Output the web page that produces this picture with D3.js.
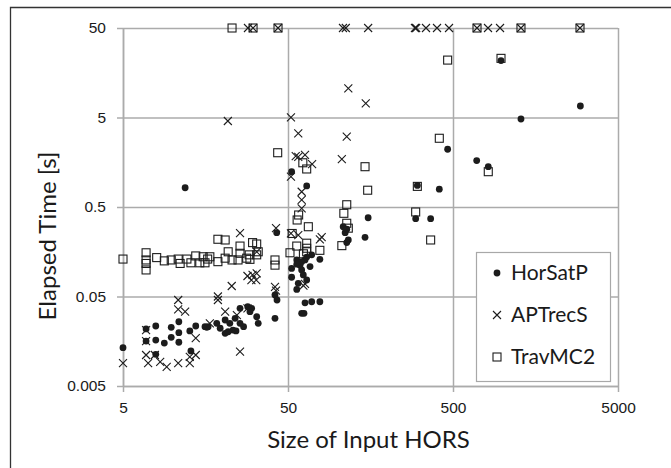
<!DOCTYPE html>
<html>
<head>
<meta charset="utf-8">
<script src="https://cdn.jsdelivr.net/npm/d3@7"></script>
<style>
  body { margin: 0; background: #fff; }
  svg { display: block; font-family: Lato, "Open Sans", sans-serif; }
  .grid line { stroke: #ababab; stroke-width: 1.5; }
  .grid path { display: none; }
  .axis path, .axis line { stroke: #ababab; stroke-width: 1.5; }
  .axis text { font-size: 15.5px; fill: #1a1a1a; }
</style>
</head>
<body>
<div id="chart"></div>
<script>
// tick values and their labels
var xTicks = [5, 50, 500, 5000];
var xTickLabels = ["5", "50", "500", "5000"];
var yTicks = [0.005, 0.05, 0.5, 5, 50];
var yTickLabels = ["0.005", "0.05", "0.5", "5", "50"];

var seriesNames = ["HorSatP", "APTrecS", "TravMC2"];

// [size of input HORS, elapsed time (s)]
var horSatP = [
  [5, 0.0134], [6.9, 0.0217], [7.9, 0.0234], [6.9, 0.0159], [7.9, 0.0163], [8.9, 0.0151],
  [9.8, 0.0226], [9.8, 0.0175], [10.9, 0.0261], [10.9, 0.0197], [10.9, 0.0154], [12.7, 0.0206],
  [13.8, 0.0234], [16.1, 0.0226], [7.9, 0.0113], [12.9, 0.0123], [15.7, 0.023], [16.4, 0.023],
  [18.5, 0.0251], [20.8, 0.0273], [22.2, 0.0251], [20.8, 0.0194], [23.2, 0.0211], [25.6, 0.0369],
  [25.6, 0.0251], [28.5, 0.0385], [29.4, 0.0338], [30.1, 0.0369], [32.3, 0.0297], [33.0, 0.0251],
  [26.9, 0.023], [23.9, 0.0285], [19.4, 0.0221], [21.7, 0.0202], [24.2, 0.0206],
  [42.7, 0.258], [41.7, 0.052], [42.9, 0.0457], [41.7, 0.0285], [11.9, 0.82],
  [52.6, 1.24], [64.9, 0.86], [153, 0.379], [146.5, 0.229], [108, 0.301], [113.5, 0.282],
  [111, 0.258], [116, 0.214], [113.5, 0.2], [78, 0.13], [52.6, 0.103], [52.6, 0.082],
  [56.5, 0.128], [59.1, 0.112], [60.5, 0.099], [61.9, 0.087], [57.7, 0.0702], [56.5, 0.06],
  [63.4, 0.128], [68, 0.108], [69.6, 0.146], [64.9, 0.0764], [63.4, 0.0425], [69.6, 0.0437],
  [78, 0.0437], [60.5, 0.0324], [62.5, 0.0324], [60.5, 0.1225], [56.5, 0.115], [64.9, 0.138],
  [2957, 6.72], [1291, 4.81], [977, 21.6], [464, 2.21], [696, 1.65], [818, 1.41],
  [304, 0.87], [413, 0.79], [297, 0.37], [366, 0.37]
];

var aptRecS = [
  [28.6, 50], [30.7, 50], [43.5, 50], [107.7, 50], [112, 50], [153, 50], [294, 50], [299, 50],
  [343, 50], [400, 50], [473, 50], [699, 50], [815, 50], [964, 50], [1291, 50], [2942, 50],
  [21.6, 4.57], [52.1, 5.01], [57.7, 3.33], [57.7, 1.82], [55.7, 1.85], [63.4, 1.91], [70, 1.51],
  [52.1, 1.09], [116, 10.6], [148, 7.2], [113.5, 3.05], [106, 1.71], [60.5, 0.74], [60.5, 0.6],
  [60.5, 0.483], [52.1, 0.254], [57.7, 0.243], [78, 0.218], [80, 0.23], [63.4, 0.069], [62, 0.066],
  [25.6, 0.256], [42.3, 0.29], [32.3, 0.158], [28.4, 0.0847], [30.5, 0.087], [32.3, 0.0908],
  [30, 0.0764], [32.1, 0.0764], [22.8, 0.0655], [18.8, 0.0457], [18.8, 0.05], [41.7, 0.064],
  [42.3, 0.058], [20.8, 0.0338], [24.5, 0.031], [16.8, 0.0251], [28.4, 0.0369], [25.6, 0.0121],
  [10.8, 0.0457], [10.8, 0.036], [11.9, 0.0338], [6.9, 0.0211], [6.9, 0.0159], [5, 0.009],
  [6.9, 0.0111], [7.1, 0.009], [7.8, 0.0111], [8.4, 0.0093], [9.2, 0.0082], [10.8, 0.009],
  [12.7, 0.0106], [12.7, 0.009], [13.8, 0.0111], [13.8, 0.0171]
];

var travMC2 = [
  [22.9, 50], [30.7, 50], [43.5, 50], [699, 50], [1291, 50], [2942, 50],
  [43.3, 2.02], [61.5, 1.56], [64.9, 1.33], [146.5, 1.41], [152, 0.77], [113.5, 0.53],
  [109, 0.425], [113.5, 0.329], [116, 0.29], [106, 0.185], [58, 0.407], [56.8, 0.358],
  [66.4, 0.301], [53, 0.253], [56.5, 0.183], [64.9, 0.197], [64.9, 0.173], [64.9, 0.158],
  [62, 0.15], [78, 0.164], [51.4, 0.154], [413, 2.93], [464, 21.9], [977, 22.9], [818, 1.24],
  [304, 0.85], [297, 0.44], [366, 0.214],
  [5, 0.131], [6.9, 0.154], [6.9, 0.128], [6.9, 0.117], [6.9, 0.099], [8.0, 0.136], [8.9, 0.125],
  [9.8, 0.128], [10.8, 0.131], [11.1, 0.117], [12.2, 0.131], [12.9, 0.119], [13.8, 0.142],
  [14.6, 0.119], [16.3, 0.131], [15.3, 0.139], [16.8, 0.139], [15.7, 0.119], [18.8, 0.218],
  [20.8, 0.214], [25.6, 0.183], [30.5, 0.2], [32.3, 0.193], [18.8, 0.1225], [20.8, 0.134],
  [21.7, 0.158], [22.9, 0.128], [24.9, 0.128], [25.6, 0.152], [28.1, 0.134], [29.1, 0.146],
  [29.4, 0.13], [32.3, 0.146], [33, 0.158], [41.7, 0.128], [41.7, 0.112]
];

var svgWidth = 671;
var svgHeight = 468;
var margin = { top: 28, left: 123, right: 53, bottom: 82 };
var width = svgWidth - margin.left - margin.right;    // 495
var height = svgHeight - margin.top - margin.bottom;  // 358

var svg = d3.select("#chart").append("svg")
  .attr("width", svgWidth)
  .attr("height", svgHeight);

svg.append("rect").attr("width", svgWidth).attr("height", svgHeight).attr("fill", "#fff");

// outer frame (top and left only are visible)
svg.append("path")
  .attr("d", "M10.5,468V7.5H671")
  .attr("fill", "none")
  .attr("stroke", "#333")
  .attr("stroke-width", 1.3);

var chartGroup = svg.append("g")
  .attr("transform", `translate(${margin.left}, ${margin.top})`);

var xScale = d3.scaleLog().domain([5, 5000]).range([0, width]);
var yScale = d3.scaleLog().domain([0.005, 50]).range([height, 0]);

// gridlines
chartGroup.append("g")
  .attr("class", "grid")
  .call(d3.axisLeft(yScale).tickValues(yTicks).tickSize(-width).tickFormat(""));
chartGroup.append("g")
  .attr("class", "grid")
  .attr("transform", `translate(0, ${height})`)
  .call(d3.axisBottom(xScale).tickValues(xTicks).tickSize(-height).tickFormat(""));

// axes
chartGroup.append("g")
  .attr("class", "axis")
  .attr("transform", `translate(0, ${height})`)
  .call(d3.axisBottom(xScale).tickValues(xTicks).tickSizeInner(6).tickSizeOuter(0).tickPadding(10)
    .tickFormat((d, i) => xTickLabels[i]));

chartGroup.append("g")
  .attr("class", "axis")
  .call(d3.axisLeft(yScale).tickValues(yTicks).tickSizeInner(6).tickSizeOuter(0).tickPadding(11)
    .tickFormat((d, i) => yTickLabels[i]));

chartGroup.selectAll(".axis .domain").attr("stroke", "#ababab");

// axis titles
chartGroup.append("text")
  .attr("x", width / 2 - 2)
  .attr("y", height + 62)
  .attr("text-anchor", "middle")
  .attr("font-size", "24px")
  .attr("fill", "#1a1a1a")
  .text("Size of Input HORS");

chartGroup.append("text")
  .attr("transform", "rotate(-90)")
  .attr("x", 0 - (height / 2 + 29))
  .attr("y", 0 - margin.left + 56)
  .attr("text-anchor", "middle")
  .attr("font-size", "24px")
  .attr("fill", "#1a1a1a")
  .text("Elapsed Time [s]");

// marker shapes
var ink = "#1c1c1c";
function drawCircle(g) {
  g.append("circle").attr("r", 3.4).attr("fill", ink);
}
function drawCross(g) {
  g.append("path").attr("d", "M-4,-4L4,4M-4,4L4,-4")
    .attr("stroke", ink).attr("stroke-width", 1.1).attr("fill", "none");
}
function drawSquare(g) {
  g.append("rect").attr("x", -4).attr("y", -4).attr("width", 8).attr("height", 8)
    .attr("stroke", ink).attr("stroke-width", 1.1).attr("fill", "none");
}
var drawers = [drawCircle, drawCross, drawSquare];
var allSeries = [horSatP, aptRecS, travMC2];

allSeries.forEach(function (data, si) {
  chartGroup.append("g").selectAll(null)
    .data(data)
    .enter()
    .append("g")
    .attr("transform", d => `translate(${xScale(d[0])}, ${yScale(d[1])})`)
    .each(function () { drawers[si](d3.select(this)); });
});

// legend
var legend = chartGroup.append("g")
  .attr("transform", `translate(${353}, ${224})`);

legend.append("rect")
  .attr("x", 0.5).attr("y", 0.5)
  .attr("width", 134).attr("height", 129)
  .attr("fill", "#fff")
  .attr("stroke", "#a8a8a8")
  .attr("stroke-width", 1.2);

seriesNames.forEach(function (name, i) {
  var row = legend.append("g").attr("transform", `translate(21, ${21 + i * 42})`);
  drawers[i](row);
  row.append("text")
    .attr("x", 14)
    .attr("y", 0)
    .attr("dy", "0.35em")
    .attr("font-size", "21px")
    .attr("fill", "#1a1a1a")
    .text(name);
});
</script>
</body>
</html>
